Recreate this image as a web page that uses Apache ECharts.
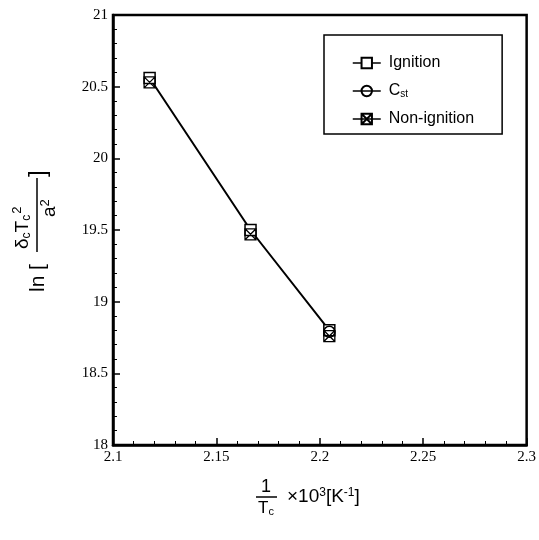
<!DOCTYPE html>
<html>
<head>
<meta charset="utf-8">
<script src="https://cdn.jsdelivr.net/npm/echarts@6/dist/echarts.min.js"></script>
<style>
html,body{margin:0;padding:0;background:#fff;}
#c{width:539px;height:540px;}
</style>
</head>
<body>
<div id="c"></div>
<script>
// ---- data ----
var seriesNames = ['Ignition', 'C_st', 'Non-ignition'];
var xValues = [2.1177, 2.1665, 2.2046];
var ignitionY = [20.56, 19.5, 18.8];
var nonIgnitionY = [20.53, 19.47, 18.76];
var cstX = [2.2046];
var cstY = [18.79];
var xTicks = [2.1, 2.15, 2.2, 2.25, 2.3];
var yTicks = [18, 18.5, 19, 19.5, 20, 20.5, 21];

function pairs(xs, ys) { return xs.map(function (x, i) { return [x, ys[i]]; }); }

var chart = echarts.init(document.getElementById('c'));
var SANS = 'Liberation Sans, Arial, sans-serif';
var SERIF = 'Liberation Serif, Times New Roman, serif';
var xSym = 'path://M0,0H10V10H0Z M0,0L10,10 M10,0L0,10';

var option = {
  backgroundColor: '#fff',
  animation: false,
  grid: { left: 113, right: 11, top: 15, bottom: 95, show: true, borderColor: '#000', borderWidth: 2.5, backgroundColor: 'transparent' },
  xAxis: {
    type: 'value', min: xTicks[0], max: xTicks[xTicks.length - 1], interval: 0.05,
    axisLine: { show: true, lineStyle: { color: '#000', width: 2.5 } },
    axisTick: { show: true, inside: true, length: 7, lineStyle: { color: '#000', width: 1.5 } },
    minorTick: { show: true, splitNumber: 5, length: 4, lineStyle: { color: '#000', width: 1 } },
    splitLine: { show: false },
    axisLabel: { color: '#000', fontFamily: SERIF, fontSize: 15, margin: 5,
      formatter: function (v) { return String(Math.round(v * 100) / 100); } }
  },
  yAxis: {
    type: 'value', min: yTicks[0], max: yTicks[yTicks.length - 1], interval: 0.5,
    axisLine: { show: true, lineStyle: { color: '#000', width: 2.5 } },
    axisTick: { show: true, inside: true, length: 7, lineStyle: { color: '#000', width: 1.5 } },
    minorTick: { show: true, splitNumber: 5, length: 4, lineStyle: { color: '#000', width: 1 } },
    splitLine: { show: false },
    axisLabel: { color: '#000', fontFamily: SERIF, fontSize: 15, margin: 5 }
  },
  legend: {
    orient: 'vertical', left: 324, top: 35,
    backgroundColor: '#fff', borderColor: '#000', borderWidth: 1.5, borderRadius: 0,
    padding: [20, 28, 7, 28], itemGap: 12, itemWidth: 28, itemHeight: 13,
    lineStyle: { color: '#000', width: 1.5, opacity: 1 },
    textStyle: { color: '#000', fontFamily: SANS, fontSize: 16, padding: [0, 0, 0, 3],
      rich: { b: { fontFamily: SANS, fontSize: 16, color: '#000' },
              s: { fontFamily: SANS, fontSize: 10, color: '#000', verticalAlign: 'bottom', padding: [6, 0, 0, 0] } } },
    formatter: function (n) { return n === 'C_st' ? '{b|C}{s|st}' : n; },
    data: seriesNames
  },
  series: [
    { name: seriesNames[0], type: 'line', data: pairs(xValues, ignitionY),
      symbol: 'rect', symbolSize: 11, showAllSymbol: true, z: 2,
      lineStyle: { color: '#000', width: 2 },
      itemStyle: { color: '#fff', borderColor: '#000', borderWidth: 1.5 } },
    { name: seriesNames[1], type: 'line', data: pairs(cstX, cstY),
      symbol: 'circle', symbolSize: 11, z: 3,
      lineStyle: { color: '#000', width: 2 },
      itemStyle: { color: 'transparent', borderColor: '#000', borderWidth: 1.5 } },
    { name: seriesNames[2], type: 'line', data: pairs(xValues, nonIgnitionY),
      symbol: xSym, symbolSize: 11, z: 3,
      lineStyle: { color: '#000', width: 2, opacity: 0 },
      itemStyle: { color: 'transparent', borderColor: '#000', borderWidth: 1.3 } }
  ],
  graphic: [
    // y-axis title: ln[ δcTc² / a² ]
    { type: 'group', x: 37, y: 230, rotation: Math.PI / 2, children: [
      { type: 'text', x: -62, y: 1, style: { text: 'ln', font: '21px ' + SANS, fill: '#000', verticalAlign: 'middle' } },
      { type: 'text', x: -40, y: 1, style: { text: '[', font: '21px ' + SANS, fill: '#000', verticalAlign: 'middle' } },
      { type: 'line', shape: { x1: -22, y1: 0, x2: 52, y2: 0 }, style: { stroke: '#000', lineWidth: 1.5 } },
      { type: 'text', x: -19, y: -3, style: { text: '{n|δ}{s|c}{n|T}{s|c}{p|2}', fill: '#000', verticalAlign: 'bottom',
          rich: { n: { font: '19px ' + SANS, fill: '#000' },
                  s: { font: '12px ' + SANS, fill: '#000', padding: [8, 0, 0, 0] },
                  p: { font: '13px ' + SANS, fill: '#000', padding: [0, 0, 10, 1] } } } },
      { type: 'text', x: 13, y: 2, style: { text: '{n|a}{p|2}', fill: '#000', verticalAlign: 'top',
          rich: { n: { font: '19px ' + SANS, fill: '#000' },
                  p: { font: '13px ' + SANS, fill: '#000', padding: [0, 0, 9, 0] } } } },
      { type: 'text', x: 53, y: 1, style: { text: ']', font: '24px ' + SANS, fill: '#000', verticalAlign: 'middle' } }
    ] },
    // x-axis title: 1/Tc ×10³[K⁻¹]
    { type: 'text', x: 266, y: 496, style: { text: '1', font: '18px ' + SANS, fill: '#000', align: 'center', verticalAlign: 'bottom' } },
    { type: 'line', shape: { x1: 256, y1: 497, x2: 277, y2: 497 }, style: { stroke: '#000', lineWidth: 1.5 } },
    { type: 'text', x: 266, y: 499, style: { text: '{n|T}{s|c}', fill: '#000', align: 'center', verticalAlign: 'top',
        rich: { n: { font: '17px ' + SANS, fill: '#000' }, s: { font: '11px ' + SANS, fill: '#000', padding: [7, 0, 0, 0] } } } },
    { type: 'text', x: 287, y: 497, style: { text: '{n|×10}{p|3}{n|[K}{p|-1}{n|]}', fill: '#000', verticalAlign: 'middle',
        rich: { n: { font: '19px ' + SANS, fill: '#000' }, p: { font: '12px ' + SANS, fill: '#000', padding: [0, 0, 9, 0] } } } }
  ]
};
chart.setOption(option);
</script>
</body>
</html>
